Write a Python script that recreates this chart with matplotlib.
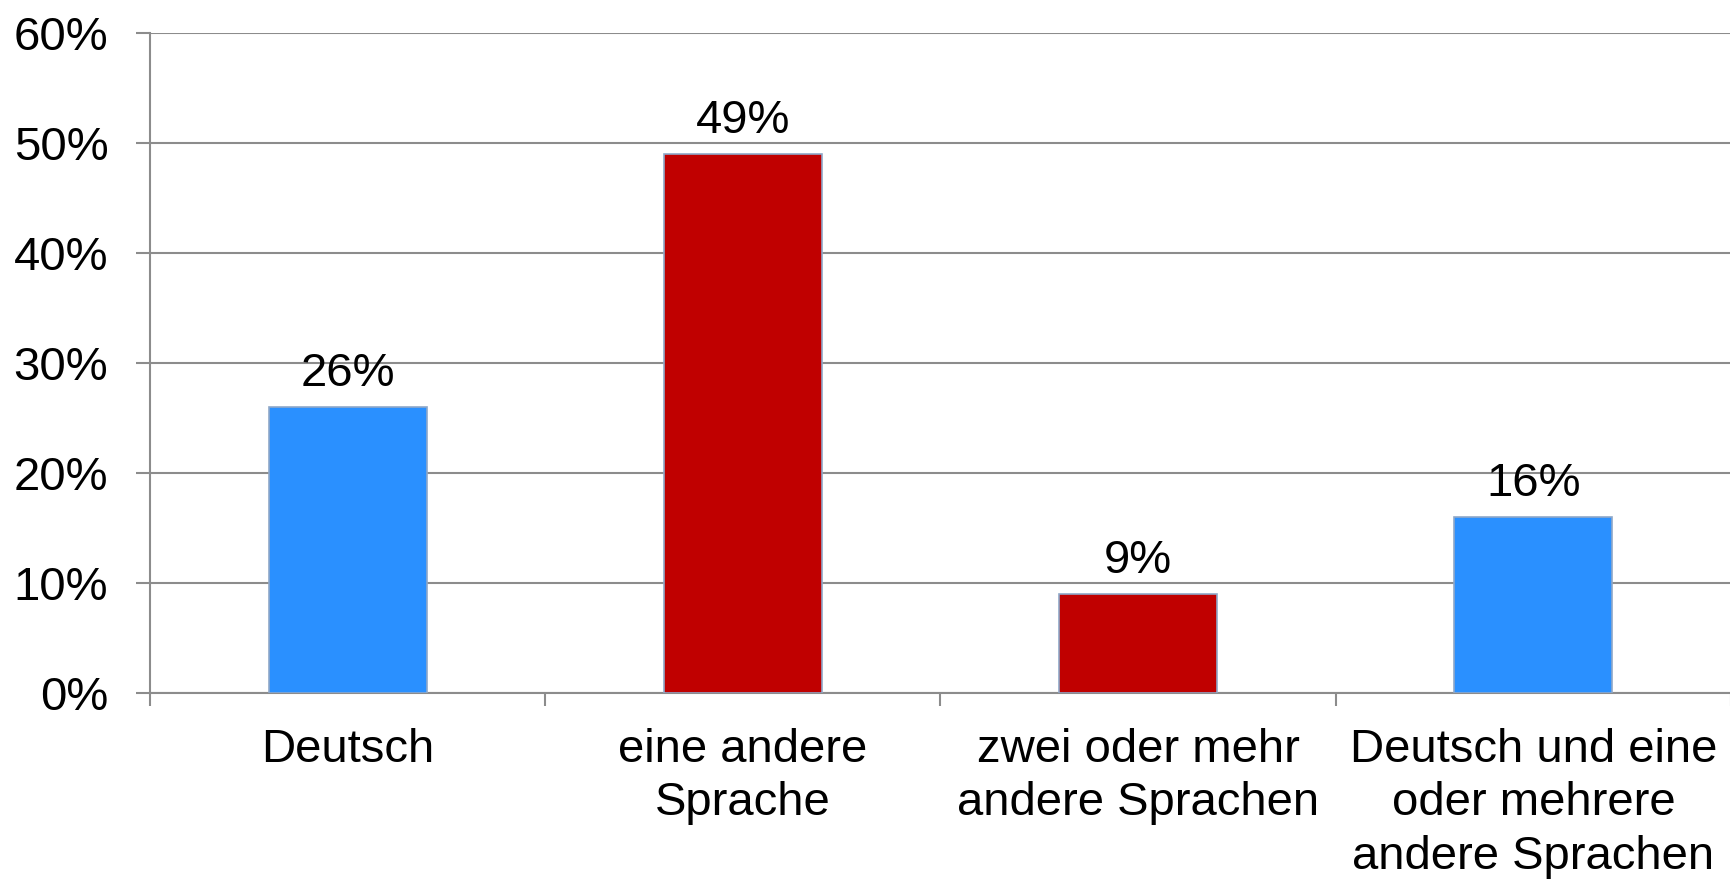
import matplotlib.pyplot as plt
import numpy as np

# Daten
kategorien = ['Deutsch', 'eine andere\nSprache', 'zwei oder mehr\nandere Sprachen',
              'Deutsch und eine\noder mehrere\nandere Sprachen']
werte = [26, 49, 9, 16]
farben = ['#2A90FF', '#C00000', '#C00000', '#2A90FF']

plt.rcParams['font.family'] = ['Liberation Sans', 'DejaVu Sans']

fig = plt.figure(figsize=(17.31, 8.81), dpi=100)
ax = fig.add_axes([150 / 1731, 1 - 693 / 881, 1 - 150 / 1731, (693 - 33) / 881])

x = np.arange(len(werte))
bars = ax.bar(x, werte, width=0.4, color=farben, edgecolor='#8FA8C8', linewidth=1.2, zorder=3)

for b, v in zip(bars, werte):
    ax.annotate('%d%%' % v, (b.get_x() + b.get_width() / 2, v), xytext=(0, 8),
                textcoords='offset points', ha='center', va='bottom', fontsize=34)

ax.set_xlim(-0.5, len(werte) - 0.5)
ax.set_ylim(0, 60)
ax.set_yticks(range(0, 61, 10))
ax.set_yticklabels(['%d%%' % t for t in range(0, 61, 10)], fontsize=34)
ax.yaxis.grid(True, color='#8C8C8C', linewidth=1.5, zorder=0)
ax.tick_params(axis='y', length=10, width=1.5, color='#8C8C8C', pad=20)

ax.set_xticks(x)
ax.set_xticklabels(kategorien, fontsize=34, linespacing=1.28, va='top')
ax.set_xticks(np.arange(len(werte) + 1) - 0.5, minor=True)
ax.tick_params(axis='x', which='major', length=0, pad=25)
ax.tick_params(axis='x', which='minor', length=9, width=1.5, color='#8C8C8C')

for s in ['top', 'right']:
    ax.spines[s].set_visible(False)
for s in ['left', 'bottom']:
    ax.spines[s].set_color('#8C8C8C')
    ax.spines[s].set_linewidth(1.5)

fig.savefig('out.png', dpi=100)
